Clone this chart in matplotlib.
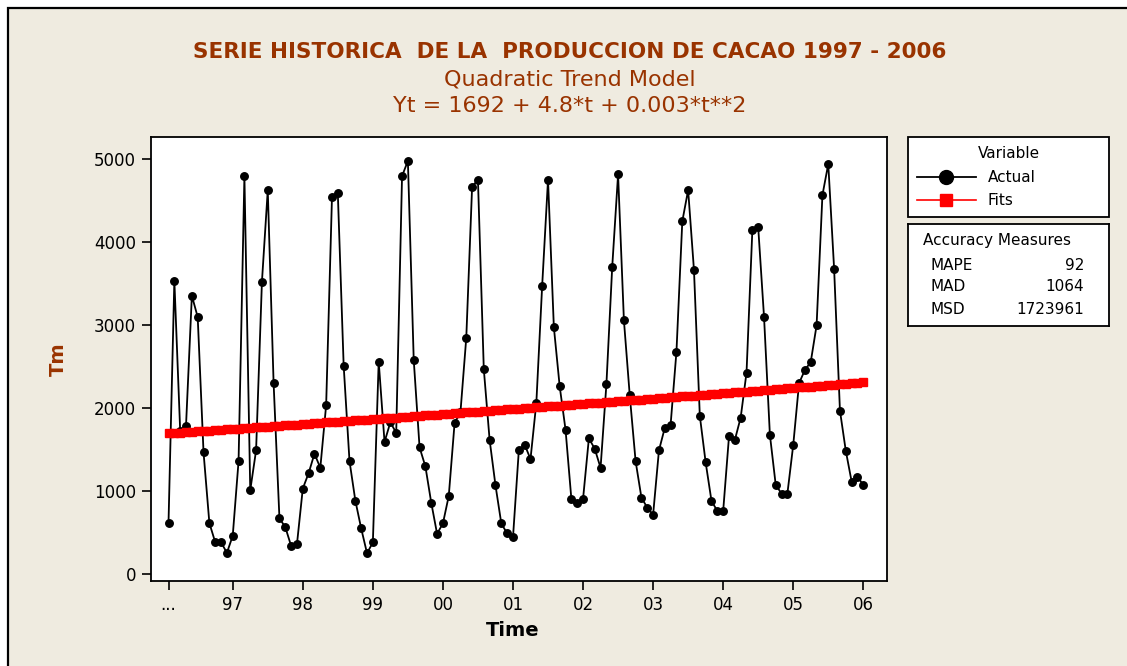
import matplotlib
matplotlib.use('Agg')
import matplotlib.pyplot as plt
from matplotlib.patches import Rectangle
from matplotlib.lines import Line2D

# monthly production (Tm), 1997 - 2006
actual = [617, 3539, 1730, 1792, 3357, 3099, 1469, 617, 387, 387, 258, 464,
          1364, 4798, 1013, 1493, 3523, 4629, 2304, 674, 569, 343, 363, 1033,
          1219, 1453, 1283, 2038, 4544, 4588, 2514, 1364, 888, 553, 254, 384,
          2563, 1594, 1832, 1703, 4798, 4980, 2583, 1529, 1299, 863, 488, 613,
          944, 1824, 1950, 2849, 4669, 4754, 2473, 1618, 1073, 613, 492, 444,
          1493, 1562, 1388, 2066, 3479, 4754, 2978, 2264, 1743, 908, 863, 908,
          1638, 1513, 1283, 2288, 3708, 4818, 3059, 2155, 1364, 924, 803, 718,
          1493, 1764, 1804, 2684, 4253, 4629, 3664, 1909, 1348, 884, 763, 763,
          1663, 1618, 1889, 2430, 4149, 4181, 3099, 1683, 1077, 972, 972, 1558,
          2304, 2461, 2558, 2999, 4568, 4943, 3684, 1973, 1489, 1118, 1178, 1074]

# fitted values of the quadratic trend (Yt = 1692 + 4.8*t + 0.003*t**2)
fits = [1697, 1702, 1706, 1711, 1716, 1721, 1726, 1731, 1735, 1740, 1745, 1750,
        1755, 1760, 1765, 1770, 1774, 1779, 1784, 1789, 1794, 1799, 1804, 1809,
        1814, 1819, 1824, 1829, 1834, 1839, 1844, 1849, 1854, 1859, 1864, 1869,
        1874, 1879, 1884, 1889, 1894, 1899, 1904, 1909, 1914, 1919, 1924, 1929,
        1934, 1940, 1945, 1950, 1955, 1960, 1965, 1970, 1975, 1980, 1986, 1991,
        1996, 2001, 2006, 2011, 2017, 2022, 2027, 2032, 2037, 2043, 2048, 2053,
        2058, 2064, 2069, 2074, 2079, 2085, 2090, 2095, 2100, 2106, 2111, 2116,
        2122, 2127, 2132, 2138, 2143, 2148, 2154, 2159, 2164, 2170, 2175, 2180,
        2186, 2191, 2197, 2202, 2207, 2213, 2218, 2224, 2229, 2235, 2240, 2245,
        2251, 2256, 2262, 2267, 2273, 2278, 2284, 2289, 2295, 2300, 2306, 2311]

t = list(range(1, len(actual) + 1))

xtick_pos = [1, 12, 24, 36, 48, 60, 72, 84, 96, 108, 120]
xtick_lab = ['...', '97', '98', '99', '00', '01', '02', '03', '04', '05', '06']
ytick_pos = [0, 1000, 2000, 3000, 4000, 5000]

measures = ['MAPE', 'MAD', 'MSD']
measure_vals = ['92', '1064', '1723961']

W, H = 1127, 666
BG = '#efebe0'
BROWN = '#993300'


def px_axes(fig, l, t_, r, b):
    # pixel box -> figure fraction
    return fig.add_axes([l / W, 1 - b / H, (r - l) / W, (b - t_) / H])


fig = plt.figure(figsize=(W / 100, H / 100), dpi=100, facecolor='white')

# beige panel with black border (runs off right/bottom edge)
fig.add_artist(Rectangle((7.5 / W, -0.1), 1.2, 1.1 - 8.5 / H,
                         transform=fig.transFigure, facecolor=BG,
                         edgecolor='black', lw=1.6, zorder=-1))

fig.text(570 / W, 1 - 52 / H, 'SERIE HISTORICA  DE LA  PRODUCCION DE CACAO 1997 - 2006',
         ha='center', va='center', fontsize=15.5, fontweight='bold', color=BROWN)
fig.text(570 / W, 1 - 80 / H, 'Quadratic Trend Model',
         ha='center', va='center', fontsize=16, color=BROWN)
fig.text(570 / W, 1 - 106 / H, 'Yt = 1692 + 4.8*t + 0.003*t**2',
         ha='center', va='center', fontsize=16, color=BROWN)

# main plot
ax = px_axes(fig, 150.7, 137.3, 887, 580.7)
ax.set_facecolor('white')
ax.plot(t, actual, color='black', lw=1.3, marker='o', ms=5.4,
        markerfacecolor='black', markeredgecolor='black', label='Actual', zorder=2)
ax.plot(t, fits, color='red', lw=1.2, marker='s', ms=6.4,
        markerfacecolor='red', markeredgecolor='red', label='Fits', zorder=3)

ax.set_xlim(-2.05, 124.06)
ax.set_ylim(-77, 5265)
ax.set_xticks(xtick_pos)
ax.set_xticklabels(xtick_lab)
ax.set_yticks(ytick_pos)
ax.tick_params(axis='both', direction='out', length=6.5, width=1.2,
               labelsize=12, colors='black')
ax.tick_params(axis='x', pad=4.5)
ax.tick_params(axis='y', pad=4)
for s in ax.spines.values():
    s.set_linewidth(1.3)
    s.set_color('black')

ax.set_xlabel('Time', fontsize=14, fontweight='bold')
ax.xaxis.set_label_coords(0.492, -0.092)
ax.set_ylabel('Tm', fontsize=14, fontweight='bold', color=BROWN)
ax.yaxis.set_label_coords(-0.112, 0.5)

# legend box
handles = [Line2D([], [], color='black', lw=1.3, marker='o', ms=10),
           Line2D([], [], color='red', lw=1.2, marker='s', ms=8)]
leg = fig.legend(handles, ['Actual', 'Fits'], title='Variable',
                 loc='upper left',
                 bbox_to_anchor=(908.3 / W, 1 - 137.3 / H - 0.01, (1109 - 908.3) / W, 0.01),
                 mode='expand', borderaxespad=0, fontsize=11, title_fontsize=11,
                 handlelength=3.8, handletextpad=0.8, borderpad=0.6,
                 labelspacing=0.55, fancybox=False, frameon=True)
leg.get_frame().set_edgecolor('black')
leg.get_frame().set_linewidth(1.3)
leg.get_frame().set_facecolor('white')
leg.get_frame().set_alpha(1)

# accuracy measures box
bx = px_axes(fig, 908.3, 224, 1109, 325.7)
bx.set_xticks([])
bx.set_yticks([])
for s in bx.spines.values():
    s.set_linewidth(1.3)
bx.set_xlim(908.3, 1109)
bx.set_ylim(325.7, 224)
bx.text(922.7, 241, 'Accuracy Measures', fontsize=11, va='center', ha='left')
rows_y = [265, 286.7, 310]
for name, val, yy in zip(measures, measure_vals, rows_y):
    bx.text(930.7, yy, name, fontsize=11, va='center', ha='left')
    bx.text(1084, yy, val, fontsize=11, va='center', ha='right')

fig.savefig('out.png', dpi=100, facecolor='white')
